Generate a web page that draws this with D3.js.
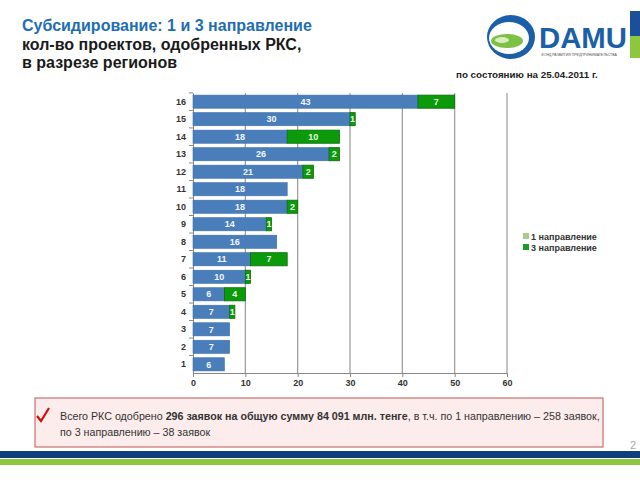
<!DOCTYPE html>
<html>
<head>
<meta charset="utf-8">
<script src="https://cdn.jsdelivr.net/npm/d3@7/dist/d3.min.js"></script>
<style>
  body { margin: 0; background: #fff; }
  text { font-family: "Liberation Sans", Arial, sans-serif; }
</style>
</head>
<body>
<svg id="chart" width="640" height="480"></svg>
<script>
// data
var regions = ["16","15","14","13","12","11","10","9","8","7","6","5","4","3","2","1"];
var dir1 = [43, 30, 18, 26, 21, 18, 18, 14, 16, 11, 10, 6, 7, 7, 7, 6];
var dir3 = [7, 1, 10, 2, 2, 0, 2, 1, 0, 7, 1, 4, 1, 0, 0, 0];
var xTicks = [0, 10, 20, 30, 40, 50, 60];
var legendNames = ["1 направление", "3 направление"];

function drawChart() {

var blue = "#4a7ebb";
var green = "#0a9a0a";

var svg = d3.select("#chart");

// header
svg.append("text").attr("x", 22).attr("y", 31)
    .attr("font-size", "16px").attr("font-weight", "bold").attr("fill", "#1f6db3")
    .text("Субсидирование: 1 и 3 направление");
svg.append("text").attr("x", 22).attr("y", 50)
    .attr("font-size", "16px").attr("font-weight", "bold").attr("fill", "#1a1a1a")
    .text("кол-во проектов, одобренных РКС,");
svg.append("text").attr("x", 22).attr("y", 68)
    .attr("font-size", "16px").attr("font-weight", "bold").attr("fill", "#1a1a1a")
    .text("в разрезе регионов");
svg.append("text").attr("x", 456).attr("y", 78)
    .attr("font-size", "9.8px").attr("font-weight", "bold").attr("fill", "#222")
    .text("по состоянию на 25.04.2011 г.");

// logo
var logo = svg.append("g");
logo.append("ellipse").attr("cx", 511).attr("cy", 37).attr("rx", 24).attr("ry", 22).attr("fill", "#1b5fa8");
logo.append("ellipse").attr("cx", 509).attr("cy", 38).attr("rx", 20).attr("ry", 16).attr("fill", "#fff");
logo.append("ellipse").attr("cx", 507).attr("cy", 41).attr("rx", 16).attr("ry", 7).attr("fill", "#7cc142");
logo.append("ellipse").attr("cx", 502).attr("cy", 40).attr("rx", 7).attr("ry", 3).attr("fill", "#d9efc0");
logo.append("text").attr("x", 539).attr("y", 48)
    .attr("font-size", "30px").attr("font-weight", "bold").attr("fill", "#1b5fa8")
    .attr("textLength", 88).attr("lengthAdjust", "spacingAndGlyphs").text("DAMU");
logo.append("text").attr("x", 541).attr("y", 56)
    .attr("font-size", "3.5px").attr("fill", "#555")
    .text("ФОНД РАЗВИТИЯ ПРЕДПРИНИМАТЕЛЬСТВА");
logo.append("rect").attr("x", 630).attr("y", 11).attr("width", 10).attr("height", 25).attr("fill", "#1b4f9a");
logo.append("rect").attr("x", 630).attr("y", 36).attr("width", 10).attr("height", 22).attr("fill", "#8dc63f");

// chart
var left = 193, plotTop = 93, plotBottom = 373;
var x = d3.scaleLinear().domain([0, 60]).range([left, 507]);
var y = d3.scaleBand().domain(regions).range([plotTop, plotBottom]).paddingInner(0.25).paddingOuter(0.12);

var g = svg.append("g");

g.selectAll(".grid")
    .data(xTicks.slice(1))
    .enter()
    .append("line")
        .attr("x1", function(d){ return x(d); })
        .attr("x2", function(d){ return x(d); })
        .attr("y1", plotTop)
        .attr("y2", plotBottom)
        .attr("stroke", "#999")
        .attr("stroke-width", 1.2);

var xAxis = g.append("g")
    .attr("transform", "translate(0," + plotBottom + ")")
    .call(d3.axisBottom(x).tickValues(xTicks).tickSize(4).tickSizeOuter(0));
xAxis.select(".domain").attr("stroke", "#888");
xAxis.selectAll(".tick line").attr("stroke", "#888");
xAxis.selectAll("text").attr("font-size", "9px").attr("font-weight", "bold").attr("fill", "#333")
    .attr("font-family", "'DejaVu Sans', sans-serif");

var yAxis = g.append("g")
    .attr("transform", "translate(" + left + ",0)")
    .call(d3.axisLeft(y).tickSize(0).tickPadding(7));
yAxis.select(".domain").attr("stroke", "#888");
yAxis.selectAll("text").attr("font-size", "9px").attr("font-weight", "bold").attr("fill", "#333")
    .attr("font-family", "'DejaVu Sans', sans-serif");

// small tick marks between categories
var step = y.step();
g.selectAll(".ytick")
    .data(regions)
    .enter()
    .append("line")
        .attr("x1", left - 4)
        .attr("x2", left)
        .attr("y1", function(d){ return y(d) - step * 0.125; })
        .attr("y2", function(d){ return y(d) - step * 0.125; })
        .attr("stroke", "#888");

// bars
g.selectAll(".bar1")
    .data(regions)
    .enter()
    .append("rect")
        .attr("x", x(0))
        .attr("y", function(d){ return y(d); })
        .attr("width", function(d, i){ return x(dir1[i]) - x(0); })
        .attr("height", y.bandwidth())
        .attr("fill", blue)
        .attr("stroke", "#3d6ea8")
        .attr("stroke-width", 0.6);

g.selectAll(".bar3")
    .data(regions.filter(function(d, i){ return dir3[i] > 0; }))
    .enter()
    .append("rect")
        .attr("x", function(d){ var i = regions.indexOf(d); return x(dir1[i]); })
        .attr("y", function(d){ return y(d); })
        .attr("width", function(d){ var i = regions.indexOf(d); return x(dir3[i]) - x(0); })
        .attr("height", y.bandwidth())
        .attr("fill", green)
        .attr("stroke", "#0b6b0b")
        .attr("stroke-width", 0.8);

g.selectAll(".lab1")
    .data(regions)
    .enter()
    .append("text")
        .attr("x", function(d, i){ return x(dir1[i] / 2); })
        .attr("y", function(d){ return y(d) + y.bandwidth() / 2 + 3.2; })
        .attr("text-anchor", "middle")
        .attr("font-size", "9px")
        .attr("font-weight", "bold")
        .attr("fill", "#f2f6ff")
        .attr("font-family", "'DejaVu Sans', sans-serif")
        .text(function(d, i){ return dir1[i]; });

g.selectAll(".lab3")
    .data(regions.filter(function(d, i){ return dir3[i] > 0; }))
    .enter()
    .append("text")
        .attr("x", function(d){ var i = regions.indexOf(d); return x(dir1[i] + dir3[i] / 2); })
        .attr("y", function(d){ return y(d) + y.bandwidth() / 2 + 3.2; })
        .attr("text-anchor", "middle")
        .attr("font-size", "9px")
        .attr("font-weight", "bold")
        .attr("fill", "#e8ffe0")
        .attr("font-family", "'DejaVu Sans', sans-serif")
        .text(function(d){ return dir3[regions.indexOf(d)]; });

// legend
var legend = svg.append("g");
legend.selectAll("rect")
    .data(legendNames)
    .enter()
    .append("rect")
        .attr("x", 523)
        .attr("y", function(d, i){ return 233 + i * 11; })
        .attr("width", 6).attr("height", 6)
        .attr("fill", function(d, i){ return i == 0 ? "#a9c98f" : "#1f9a2a"; });
legend.selectAll("text")
    .data(legendNames)
    .enter()
    .append("text")
        .attr("x", 531)
        .attr("y", function(d, i){ return 239.5 + i * 11; })
        .attr("font-size", "9px")
        .attr("font-weight", "bold")
        .attr("fill", "#333")
        .attr("font-family", "'DejaVu Sans', sans-serif")
        .text(function(d){ return d; });

// note box
svg.append("rect").attr("x", 35).attr("y", 398).attr("width", 568).attr("height", 49)
    .attr("fill", "#fcecec").attr("stroke", "#c8706f").attr("stroke-width", 1.2);
svg.append("path").attr("d", "M37,416 L41,421 L49,408")
    .attr("fill", "none").attr("stroke", "#d01010").attr("stroke-width", 2.2);
var note = svg.append("text").attr("x", 60).attr("y", 420).attr("font-size", "10.7px").attr("fill", "#333");
note.append("tspan").text("Всего РКС одобрено ");
note.append("tspan").attr("font-weight", "bold").text("296 заявок на общую сумму 84 091 млн. тенге");
note.append("tspan").text(", в т.ч. по 1 направлению – 258 заявок,");
svg.append("text").attr("x", 60).attr("y", 436).attr("font-size", "10.7px").attr("fill", "#333")
    .text("по 3 направлению – 38 заявок");

svg.append("text").attr("x", 630).attr("y", 449).attr("font-size", "11px").attr("fill", "#aaa").text("2");

// bottom bands
svg.append("rect").attr("x", 0).attr("y", 451).attr("width", 640).attr("height", 7).attr("fill", "#0f3f7c");
svg.append("rect").attr("x", 0).attr("y", 459).attr("width", 640).attr("height", 6).attr("fill", "#8dc63f");
}

drawChart();
</script>
</body>
</html>
